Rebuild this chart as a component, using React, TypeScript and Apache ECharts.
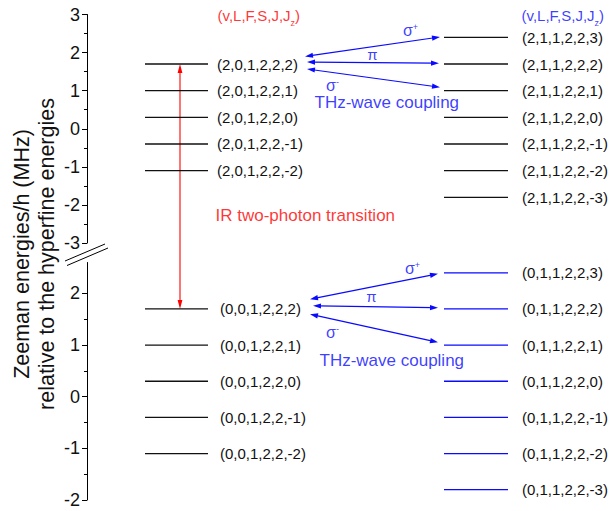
import React, { useEffect, useRef } from 'react';
import * as echarts from 'echarts';

const FONT = '"Liberation Sans", Arial, Helvetica, sans-serif';
const BLUE = '#0a0aff';
const RED = '#ff0000';
const INK = '#111111';

// ---- Level energies (MHz, relative to hyperfine energy) ----
const v2L0Energies = [1.7, 1.0, 0.3, -0.4, -1.1];
const v2L0Labels = ['(2,0,1,2,2,2)', '(2,0,1,2,2,1)', '(2,0,1,2,2,0)', '(2,0,1,2,2,-1)', '(2,0,1,2,2,-2)'];
const v2L1Energies = [2.4, 1.7, 1.0, 0.3, -0.4, -1.1, -1.8];
const v2L1Labels = ['(2,1,1,2,2,3)', '(2,1,1,2,2,2)', '(2,1,1,2,2,1)', '(2,1,1,2,2,0)', '(2,1,1,2,2,-1)', '(2,1,1,2,2,-2)', '(2,1,1,2,2,-3)'];
const v0L0Energies = [1.7, 1.0, 0.3, -0.4, -1.1];
const v0L0Labels = ['(0,0,1,2,2,2)', '(0,0,1,2,2,1)', '(0,0,1,2,2,0)', '(0,0,1,2,2,-1)', '(0,0,1,2,2,-2)'];
const v0L1Energies = [2.4, 1.7, 1.0, 0.3, -0.4, -1.1, -1.8];
const v0L1Labels = ['(0,1,1,2,2,3)', '(0,1,1,2,2,2)', '(0,1,1,2,2,1)', '(0,1,1,2,2,0)', '(0,1,1,2,2,-1)', '(0,1,1,2,2,-2)', '(0,1,1,2,2,-3)'];

// ---- Axis ticks ----
const upperTicks = [-3, -2, -1, 0, 1, 2, 3];
const lowerTicks = [-2, -1, 0, 1, 2];
const lowerMinorTicks = [-1.5, -0.5, 0.5, 1.5];

// ---- horizontal placement (x units) ----
const leftLevelX = [58, 121];
const rightLevelX = [357, 421];
const irX = 93;

// ---- THz couplings: [x1, y1, x2, y2] (sigma+, pi, sigma-) ----
const upperCouplings = [
  [218, 1.9, 353, 2.41],
  [220, 1.75, 352, 1.72],
  [220, 1.57, 353, 1.09],
];
const lowerCouplings = [
  [223, 1.89, 351, 2.38],
  [226, 1.76, 351, 1.725],
  [223, 1.6, 351, 1.054],
];

function arrowParts(p1: number[], p2: number[], color: string, len: number, half: number, lw: number, both = true) {
  const dx = p2[0] - p1[0];
  const dy = p2[1] - p1[1];
  const L = Math.hypot(dx, dy) || 1;
  const ux = dx / L, uy = dy / L;
  const nx = -uy, ny = ux;
  const a = both ? [p1[0] + ux * len * 0.7, p1[1] + uy * len * 0.7] : p1;
  const b = [p2[0] - ux * len * 0.7, p2[1] - uy * len * 0.7];
  const parts: any[] = [
    { type: 'line', shape: { x1: a[0], y1: a[1], x2: b[0], y2: b[1] }, style: { stroke: color, lineWidth: lw } },
    {
      type: 'polygon',
      shape: { points: [p2, [p2[0] - ux * len + nx * half, p2[1] - uy * len + ny * half], [p2[0] - ux * len - nx * half, p2[1] - uy * len - ny * half]] },
      style: { fill: color },
    },
  ];
  if (both) {
    parts.push({
      type: 'polygon',
      shape: { points: [p1, [p1[0] + ux * len + nx * half, p1[1] + uy * len + ny * half], [p1[0] + ux * len - nx * half, p1[1] + uy * len - ny * half]] },
      style: { fill: color },
    });
  }
  return parts;
}

function levelSeries(energies: number[], labels: string[], xs: number[], grid: number, yAxis: number, color: string, dist: number) {
  return energies.map((e, i) => ({
    type: 'line',
    name: labels[i],
    xAxisIndex: grid,
    yAxisIndex: yAxis,
    data: [[xs[0], e], [xs[1], e]],
    symbol: 'none',
    silent: true,
    lineStyle: { color, width: 1.3 },
    endLabel: {
      show: true,
      formatter: labels[i],
      distance: dist,
      fontSize: 15,
      color: INK,
      fontFamily: FONT,
    },
  }));
}

const supRich = (color: string, size: number) => ({
  g: { fontSize: size, color, lineHeight: 16, fontFamily: FONT },
  sup: { fontSize: 9, color, verticalAlign: 'top', lineHeight: 8, fontFamily: FONT },
});

function note(x: number, y: number, formatter: string, color: string, size: number, align: string, rich?: any) {
  return {
    value: [x, y],
    label: {
      show: true,
      formatter,
      position: [0, 0],
      align,
      verticalAlign: 'middle',
      color,
      fontSize: size,
      lineHeight: size + 1,
      fontFamily: FONT,
      rich,
    },
  };
}

const headerRich = (color: string) => ({
  m: { fontSize: 15, color, lineHeight: 24, fontFamily: FONT },
  sub: { fontSize: 9, color, verticalAlign: 'bottom', lineHeight: 9, fontFamily: FONT },
});

export default function App() {
  const ref = useRef<HTMLDivElement>(null);
  useEffect(() => {
    const chart = echarts.init(ref.current!, null, { renderer: 'svg' });
    const axisBase = {
      type: 'value',
      position: 'left',
      axisLine: { show: true, lineStyle: { color: '#000', width: 1 } },
      splitLine: { show: false },
      minorSplitLine: { show: false },
    };
    const option: any = {
      animation: false,
      backgroundColor: '#ffffff',
      textStyle: { fontFamily: FONT },
      grid: [
        { left: 87, width: 520, top: 14.5, height: 228.5, outerBoundsMode: 'none', containLabel: false },
        { left: 87, width: 520, top: 262.5, height: 237.5, outerBoundsMode: 'none', containLabel: false },
      ],
      xAxis: [
        { type: 'value', gridIndex: 0, min: 0, max: 520, show: false },
        { type: 'value', gridIndex: 1, min: 0, max: 520, show: false },
      ],
      yAxis: [
        {
          ...axisBase,
          gridIndex: 0,
          min: upperTicks[0],
          max: upperTicks[upperTicks.length - 1],
          interval: 1,
          axisTick: { show: true, length: 5, lineStyle: { color: '#000' } },
          minorTick: { show: true, splitNumber: 2, length: 3, lineStyle: { color: '#000' } },
          axisLabel: { fontSize: 18, color: INK, margin: 7, fontFamily: FONT },
        },
        {
          ...axisBase,
          gridIndex: 1,
          min: lowerTicks[0],
          max: 2.6,
          interval: 1,
          axisTick: { show: true, length: 5, lineStyle: { color: '#000' }, customValues: lowerTicks },
          axisLabel: { fontSize: 18, color: INK, margin: 7, fontFamily: FONT, customValues: lowerTicks },
        },
        {
          type: 'value',
          position: 'left',
          offset: 0,
          gridIndex: 1,
          min: lowerTicks[0],
          max: 2.6,
          interval: 1,
          axisLine: { show: false },
          splitLine: { show: false },
          axisTick: { show: true, length: 3, lineStyle: { color: '#000' }, customValues: lowerMinorTicks },
          axisLabel: { show: false },
        },
      ],
      series: [
        ...levelSeries(v2L0Energies, v2L0Labels, leftLevelX, 0, 0, INK, 9),
        ...levelSeries(v2L1Energies, v2L1Labels, rightLevelX, 0, 0, INK, 14),
        ...levelSeries(v0L0Energies, v0L0Labels, leftLevelX, 1, 1, INK, 12),
        ...levelSeries(v0L1Energies, v0L1Labels, rightLevelX, 1, 1, BLUE, 14),
        {
          type: 'custom',
          xAxisIndex: 0,
          yAxisIndex: 0,
          clip: false,
          silent: true,
          data: upperCouplings,
          renderItem: (_p: any, api: any) => ({
            type: 'group',
            children: arrowParts(api.coord([api.value(0), api.value(1)]), api.coord([api.value(2), api.value(3)]), BLUE, 8, 2.6, 1.2),
          }),
        },
        {
          type: 'custom',
          xAxisIndex: 1,
          yAxisIndex: 1,
          clip: false,
          silent: true,
          data: lowerCouplings,
          renderItem: (_p: any, api: any) => ({
            type: 'group',
            children: arrowParts(api.coord([api.value(0), api.value(1)]), api.coord([api.value(2), api.value(3)]), BLUE, 8, 2.6, 1.2),
          }),
        },
        {
          type: 'scatter',
          xAxisIndex: 0,
          yAxisIndex: 0,
          symbolSize: 1,
          itemStyle: { color: 'transparent' },
          silent: true,
          data: [
            note(131, 2.96, '{m|(v,L,F,S,J,J}{sub|z}{m|)}', RED, 15, 'left', headerRich(RED)),
            note(435, 2.96, '{m|(v,L,F,S,J,J}{sub|z}{m|)}', BLUE, 15, 'left', headerRich(BLUE)),
            note(324, 2.57, '{g|σ}{sup|+}', BLUE, 16, 'center', supRich(BLUE, 16)),
            note(286, 1.94, 'π', BLUE, 15, 'center'),
            note(246, 1.12, '{g|σ}{sup|-}', BLUE, 16, 'center', supRich(BLUE, 16)),
            note(228, 0.68, 'THz-wave coupling', BLUE, 17, 'left'),
            note(129, -2.29, 'IR two-photon transition', RED, 17, 'left'),
          ],
        },
        {
          type: 'scatter',
          xAxisIndex: 1,
          yAxisIndex: 1,
          symbolSize: 1,
          itemStyle: { color: 'transparent' },
          silent: true,
          data: [
            note(326, 2.475, '{g|σ}{sup|+}', BLUE, 16, 'center', supRich(BLUE, 16)),
            note(285, 1.93, 'π', BLUE, 15, 'center'),
            note(246, 1.235, '{g|σ}{sup|-}', BLUE, 16, 'center', supRich(BLUE, 16)),
            note(233, 0.69, 'THz-wave coupling', BLUE, 17, 'left'),
          ],
        },
      ],
    };
    chart.setOption(option);

    const pTop = chart.convertToPixel({ gridIndex: 0 } as any, [irX, v2L0Energies[0]]) as number[];
    const pBot = chart.convertToPixel({ gridIndex: 1 } as any, [irX, v0L0Energies[0]]) as number[];
    const irParts = arrowParts(pBot, pTop, RED, 9, 2.4, 1.1, true);

    chart.setOption({
      graphic: [
        {
          type: 'text',
          x: 34,
          y: 254,
          rotation: Math.PI / 2,
          style: {
            text: 'Zeeman energies/h (MHz)\nrelative to the hyperfine energies',
            fontSize: 21.5,
            lineHeight: 25,
            fill: INK,
            fontFamily: FONT,
            align: 'center',
            verticalAlign: 'middle',
          },
        },
        { type: 'line', shape: { x1: 65, y1: 261, x2: 105, y2: 244 }, style: { stroke: '#000', lineWidth: 1 } },
        { type: 'line', shape: { x1: 67, y1: 265.5, x2: 108, y2: 248 }, style: { stroke: '#000', lineWidth: 1 } },
        ...irParts,
      ],
    });

    return () => chart.dispose();
  }, []);
  return <div ref={ref} style={{ position: 'fixed', left: 0, top: 0, width: 609, height: 511, background: '#fff' }} />;
}
